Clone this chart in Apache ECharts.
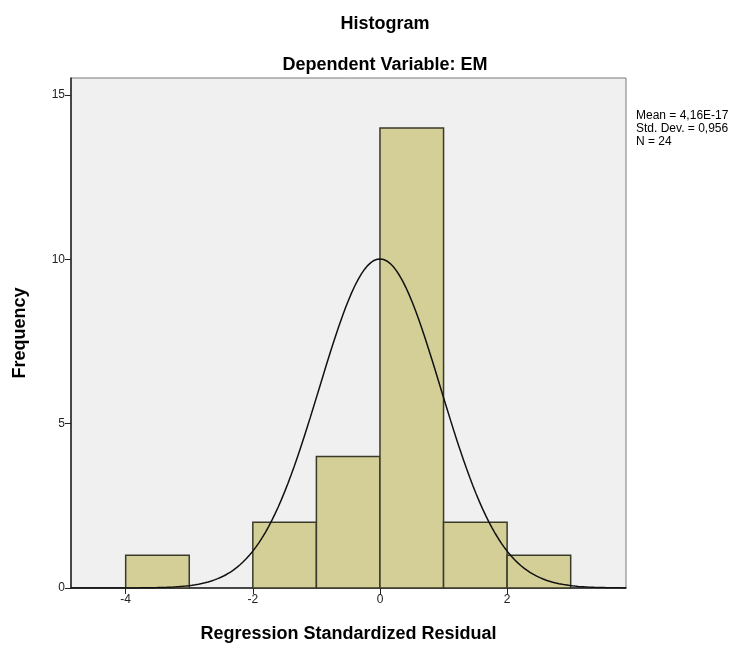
<!DOCTYPE html>
<html>
<head>
<meta charset="utf-8">
<script src="https://cdn.jsdelivr.net/npm/echarts@6/dist/echarts.min.js"></script>
<style>html,body{margin:0;padding:0;background:#fff}#c{width:752px;height:652px}</style>
</head>
<body>
<div id="c"></div>
<script>
// Histogram bins (lower edge, upper edge) and frequencies
var binStart = [-4, -2, -1, 0, 1, 2];
var binEnd   = [-3, -1, 0, 1, 2, 3];
var frequency = [1, 2, 4, 14, 2, 1];
var xTicks = [-4, -2, 0, 2];
var yTicks = [0, 5, 10, 15];
// Summary statistics shown in the chart
var statMean = 4.16e-17;
var statSD = 0.956;
var statN = 24;
var statLines = ['Mean = 4,16E-17', 'Std. Dev. = 0,956', 'N = 24'];

var xMin = -4.86, xMax = 3.87, yMax = 15.52;

var barData = binStart.map(function (s, i) { return [s, binEnd[i], frequency[i]]; });

// Fitted normal curve from the displayed mean / std. dev. / N (bin width 1)
var curve = [];
for (var k = 0; k <= 174; k++) {
  var x = xMin + (xMax - xMin) * k / 174;
  var z = (x - statMean) / statSD;
  curve.push([x, statN * 1 / (statSD * Math.sqrt(2 * Math.PI)) * Math.exp(-0.5 * z * z)]);
}

var chart = echarts.init(document.getElementById('c'));
var font = 'Liberation Sans, Arial, sans-serif';
var titleStyle = { fontFamily: font, fontWeight: 'bold', fontSize: 18, color: '#000' };
chart.setOption({
  animation: false,
  backgroundColor: '#ffffff',
  title: [
    { text: 'Histogram', left: 380, top: 10, textAlign: 'center', textStyle: titleStyle },
    { text: 'Dependent Variable: EM', left: 380, top: 51, textAlign: 'center', textStyle: titleStyle }
  ],
  graphic: [{
    type: 'text', left: 636, top: 109,
    style: { text: statLines.join('\n'), font: '12px ' + font, fill: '#000', lineHeight: 13 }
  }],
  grid: { left: 71, right: 126, top: 78, bottom: 64, show: true, outerBoundsMode: 'none',
          backgroundColor: '#f0f0f0', borderColor: '#7a7a7a', borderWidth: 1 },
  xAxis: {
    type: 'value', min: xMin, max: xMax,
    name: 'Regression Standardized Residual', nameLocation: 'middle', nameGap: 37,
    nameTextStyle: titleStyle,
    axisLine: { show: true, onZero: false, lineStyle: { color: '#222', width: 1.5 } },
    axisTick: { show: true, length: 6, customValues: xTicks, lineStyle: { color: '#222' } },
    axisLabel: { customValues: xTicks, fontFamily: font, fontSize: 12, color: '#222', margin: 6 },
    splitLine: { show: false }
  },
  yAxis: {
    type: 'value', min: 0, max: yMax,
    name: 'Frequency', nameLocation: 'middle', nameGap: 42,
    nameTextStyle: titleStyle,
    axisLine: { show: true, onZero: false, lineStyle: { color: '#222', width: 1.5 } },
    axisTick: { show: true, length: 6, customValues: yTicks, lineStyle: { color: '#222' } },
    axisLabel: { customValues: yTicks, fontFamily: font, fontSize: 12, color: '#222', margin: 6 },
    splitLine: { show: false }
  },
  series: [
    {
      type: 'custom',
      data: barData,
      encode: { x: [0, 1], y: 2 },
      renderItem: function (params, api) {
        var p0 = api.coord([api.value(0), 0]);
        var p1 = api.coord([api.value(1), api.value(2)]);
        return {
          type: 'rect',
          shape: { x: p0[0], y: p1[1], width: p1[0] - p0[0], height: p0[1] - p1[1] },
          style: { fill: '#d4cf97', stroke: '#3a3a2a', lineWidth: 1.5 }
        };
      },
      z: 2
    },
    {
      type: 'line', data: curve, showSymbol: false, smooth: false,
      lineStyle: { color: '#111', width: 1.5 }, z: 3
    }
  ]
});
</script>
</body>
</html>
